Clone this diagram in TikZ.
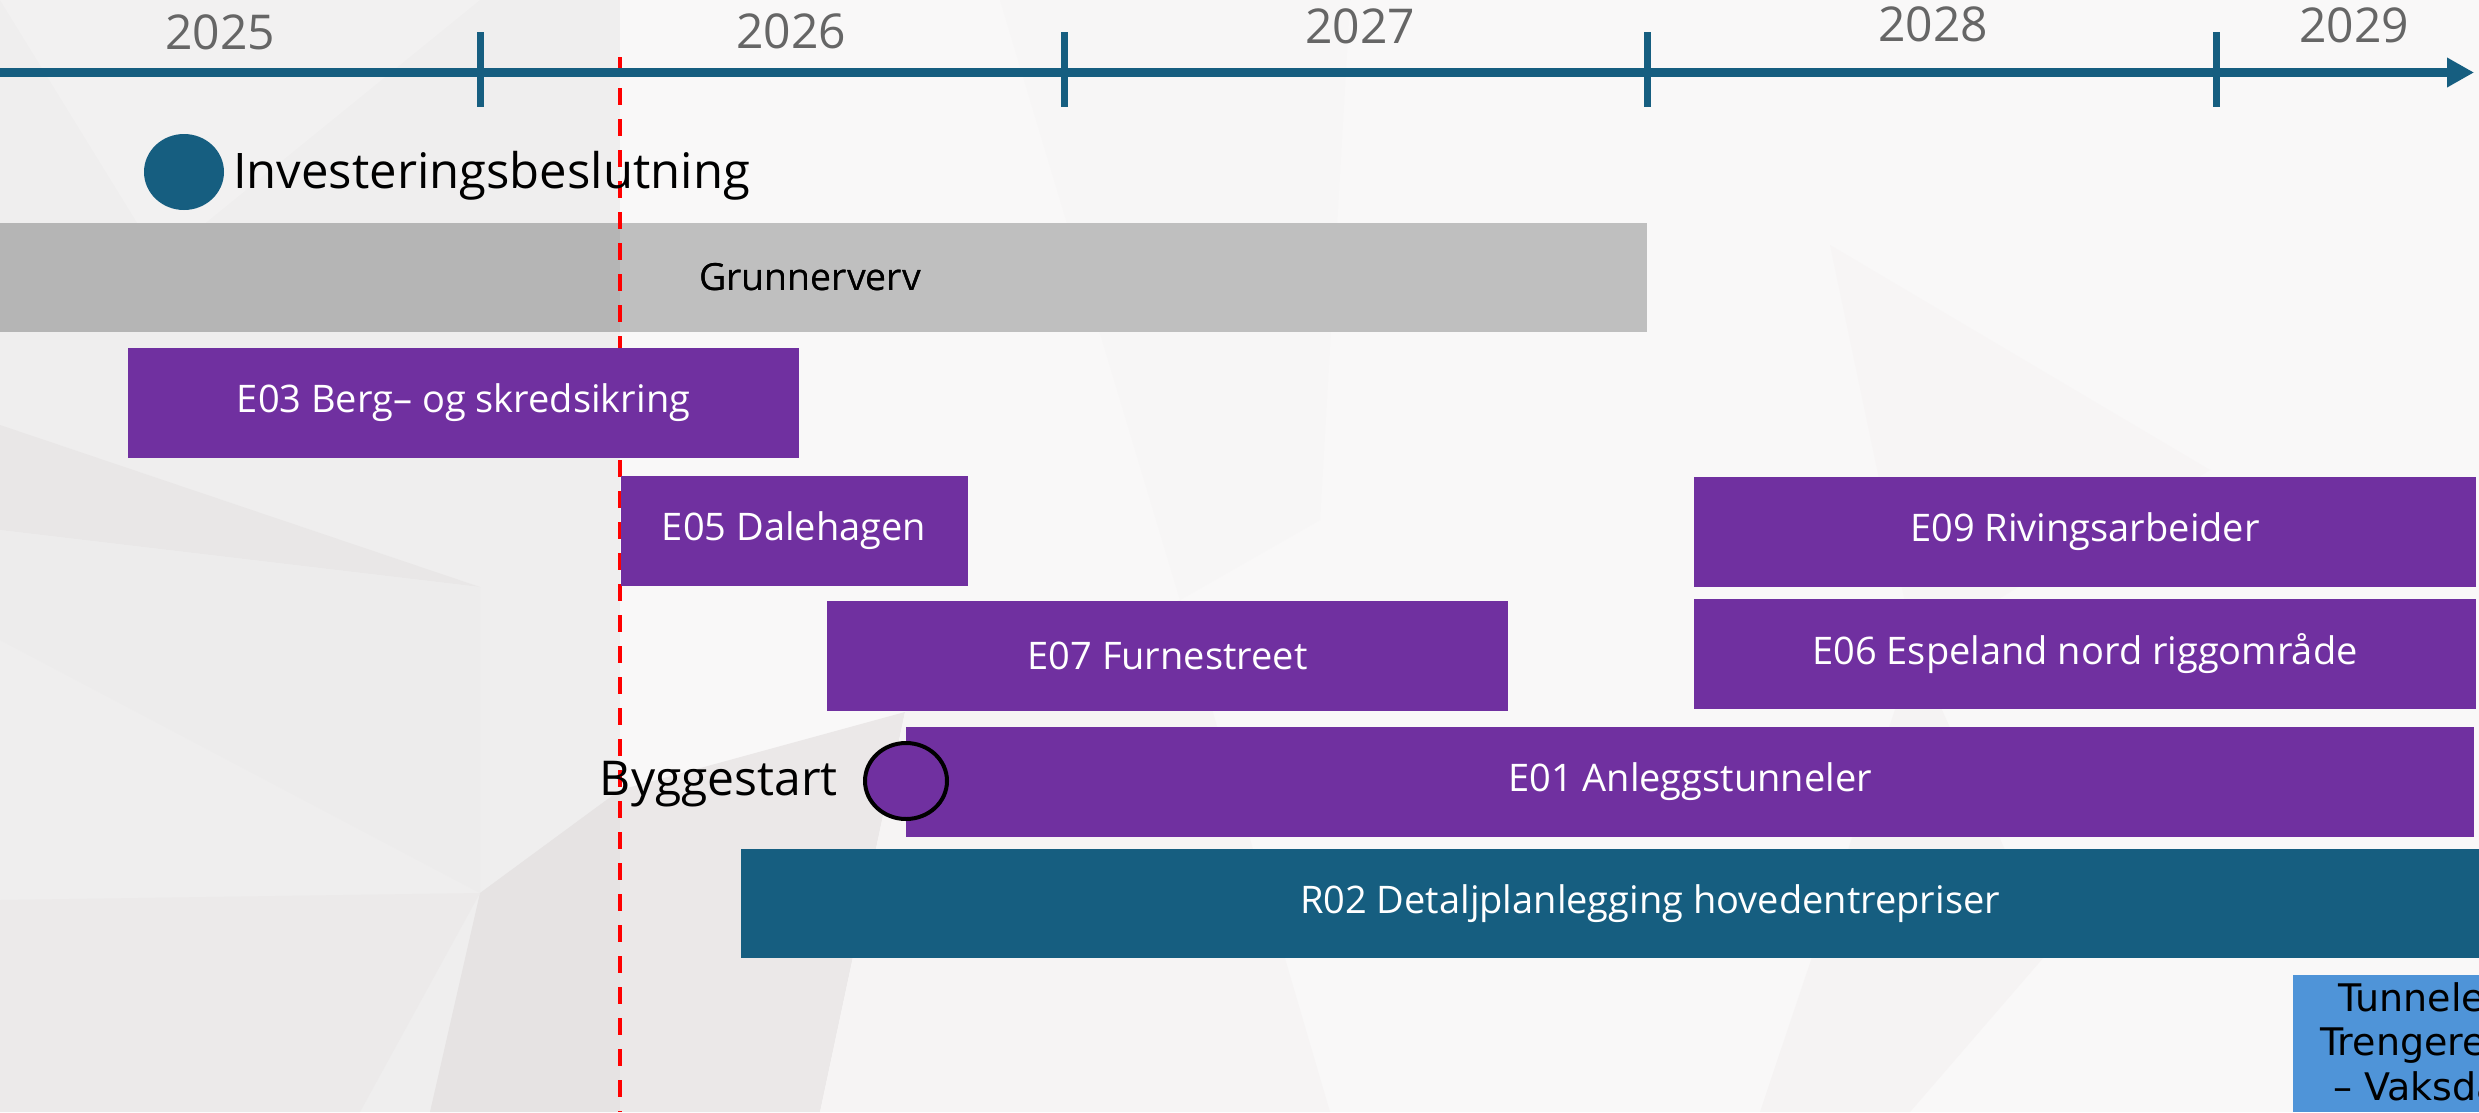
\documentclass[tikz,border=0pt]{standalone}
\usepackage{fontspec}
\setmainfont{Open Sans}
\newfontfamily\tunfont{DejaVu Sans}
\usetikzlibrary{arrows.meta,shapes.geometric}
\definecolor{tealc}{HTML}{165E80}
\definecolor{purp}{HTML}{7030A0}
\definecolor{lblue}{HTML}{4F94D8}
\definecolor{yeargray}{HTML}{666666}
\definecolor{bargray}{HTML}{BFBFBF}
\definecolor{bargrayd}{HTML}{B5B5B5}
\definecolor{bgleft}{HTML}{EFEEEE}
\definecolor{bgright}{HTML}{F9F8F8}
\begin{document}
\begin{tikzpicture}[x=1pt,y=-1pt,
  bar/.style={fill=purp, text=white, inner sep=0pt, minimum height=110pt,
              font=\fontsize{38}{44}\selectfont},
  tealbar/.style={bar, fill=tealc},
  grbar/.style={fill=bargray, text=black, inner sep=0pt, minimum height=109pt,
              font=\fontsize{37.5}{44}\selectfont},
  year/.style={text=yeargray, anchor=base, inner sep=0pt, font=\fontsize{48}{56}\selectfont},
  milestone/.style={text=black, inner sep=0pt, font=\fontsize{49}{56}\selectfont},
  tunnel/.style={text=black, inner sep=0pt, anchor=base west, font=\tunfont\fontsize{38}{44}\selectfont},
  axisline/.style={draw=tealc, line width=9pt, -{Triangle[length=27pt,width=28pt]}},
  tickline/.style={draw=tealc, line width=7pt},
  reddash/.style={draw=red, line width=4pt, dash pattern=on 17pt off 14pt},
  poly/.style={draw=none}
]
\useasboundingbox (0,0) rectangle (2479,1112);
\clip (0,0) rectangle (2479,1112);

% background
\fill[bgright] (620,0) rectangle (2479,1112);
\fill[bgleft] (0,0) rectangle (620,1112);
% faint low-poly shapes
\fill[poly, fill={rgb,255:red,233;green,231;blue,231}] (0,425) -- (480,587) -- (0,530) -- cycle;
\fill[poly, fill={rgb,255:red,237;green,236;blue,236}] (0,530) -- (480,587) -- (480,893) -- (0,640) -- cycle;
\fill[poly, fill={rgb,255:red,236;green,234;blue,234}] (0,900) -- (480,893) -- (360,1112) -- (0,1112) -- cycle;
\fill[poly, fill={rgb,255:red,230;green,227;blue,227}] (480,893) -- (620,790) -- (620,1112) -- (430,1112) -- cycle;
\fill[poly, fill={rgb,255:red,235;green,232;blue,232}] (620,790) -- (905,712) -- (820,1112) -- (620,1112) -- cycle;
\fill[poly, fill={rgb,255:red,246;green,244;blue,244}] (905,712) -- (1180,600) -- (1330,1112) -- (820,1112) -- cycle;
\fill[poly, fill={rgb,255:red,247;green,245;blue,245}] (1830,245) -- (2210,470) -- (1915,650) -- cycle;
\fill[poly, fill={rgb,255:red,245;green,243;blue,243}] (1915,650) -- (2050,950) -- (1910,1112) -- (1760,1112) -- cycle;
\fill[poly, fill={rgb,255:red,242;green,241;blue,241}] (0,0) -- (480,0) -- (160,260) -- cycle;
\fill[poly, fill={rgb,255:red,247;green,246;blue,246}] (1000,0) -- (1350,0) -- (1320,520) -- (1180,600) -- cycle;

% Grunnerverv
\node[grbar, minimum width=1674pt] (grunn) at (810,277.5) {Grunnerverv};
\fill[bargrayd] (grunn.north west) rectangle (620,332);
\node[grbar, fill=none] (grunntext) at (810,277.5) {Grunnerverv};

% red dashed line
\coordinate (redtop) at (620,57);
\coordinate (redbot) at (620,1112);
\draw[reddash] (redtop) -- (redbot);

% axis
\coordinate (axstart) at (0,72.5);
\coordinate (axend) at (2474,72.5);
\draw[axisline] (axstart) -- (axend);
\foreach \tx/\tn in {480/t1, 1064/t2, 1647/t3, 2216/t4}{
  \coordinate (\tn a) at (\tx,32);
  \coordinate (\tn b) at (\tx,107);
  \draw[tickline] (\tn a) -- (\tn b);
}

% years
\node[year] (y2025) at (220,49) {2025};
\node[year] (y2026) at (791,48) {2026};
\node[year] (y2027) at (1360,43) {2027};
\node[year] (y2028) at (1933,41) {2028};
\node[year] (y2029) at (2354,42) {2029};

% Investeringsbeslutning
\node[fill=tealc, ellipse, minimum width=80pt, minimum height=76pt, inner sep=0pt] (invdot) at (184,172) {};
\node[milestone, anchor=base west] (invtext) at (233,188) {Investeringsbeslutning};

% purple bars
\node[bar, minimum width=671pt] (e03) at (463.5,403) {E03 Berg– og skredsikring};
\node[bar, minimum width=347pt] (e05) at (794,531) {E05 Dalehagen};
\node[bar, minimum width=681pt] (e07) at (1167.5,656) {E07 Furnestreet};
\node[bar, minimum width=782pt] (e09) at (2085,532) {E09 Rivingsarbeider};
\node[bar, minimum width=782pt] (e06) at (2085,653.5) {E06 Espeland nord riggområde};
\node[bar, minimum width=1568pt] (e01) at (1690,782) {E01 Anleggstunneler};
\node[tealbar, minimum width=1818pt, minimum height=109pt] (r02) at (1650,903.5) {R02 Detaljplanlegging hovedentrepriser};

% Byggestart
\node[fill=purp, draw=black, line width=4pt, ellipse, minimum width=82pt, minimum height=76pt, inner sep=0pt] (bygdot) at (906,781) {};
\node[milestone, anchor=base east, font=\fontsize{48}{56}\selectfont] (bygtext) at (838,795) {Byggestart};

% Tunnel box
\fill[lblue] (2293,975) rectangle (2479,1112);
\node[tunnel] (tun1) at (2338,1011) {Tunnele};
\node[tunnel] (tun2) at (2320,1055) {Trengere};
\node[tunnel] (tun3) at (2333,1100) {– Vaksda};
\end{tikzpicture}
\end{document}
